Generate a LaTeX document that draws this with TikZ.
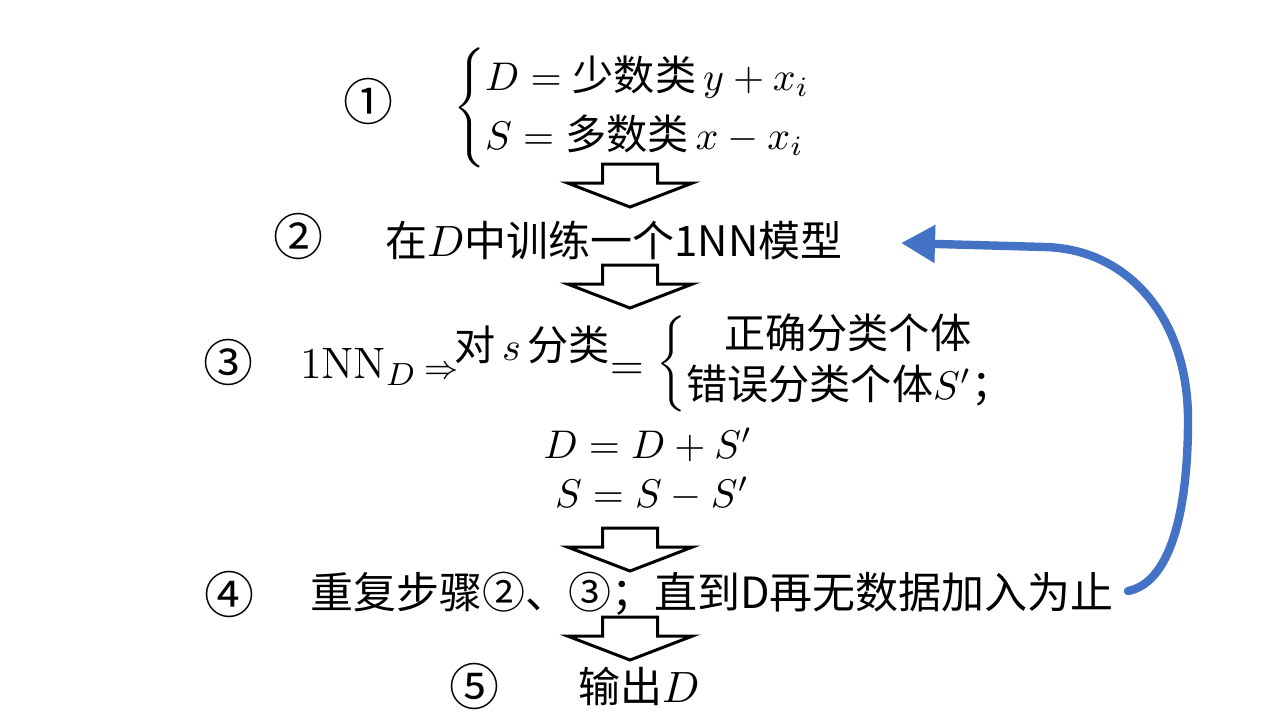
\documentclass[tikz,border=0pt]{standalone}
\usepackage{amsmath}
\usepackage{fontspec}
\newfontfamily\cjk{Noto Sans CJK SC}
\usetikzlibrary{arrows.meta}
\definecolor{loopblue}{HTML}{4472C4}
\newcommand\zh[1]{\text{\cjk #1}}
\tikzset{
  txt/.style={inner sep=0pt, outer sep=0pt},
  circnum/.style={txt, font=\cjk\fontsize{12.5}{14}\selectfont},
  hollowline/.style={draw=black, line width=0.75pt, line join=miter, fill=white},
  hollowdown/.pic={\draw[hollowline] (-27.5,0) -- (27.5,0) -- (27.5,19) -- (62.5,19) -- (0,43) -- (-62.5,19) -- (-27.5,19) -- cycle;},
  looparrow/.style={draw=loopblue, line width=2.1pt, line cap=round, -{Triangle[length=8.5pt,width=9pt]}}
}
\begin{document}
\begin{tikzpicture}[x=0.25pt,y=-0.25pt]
\useasboundingbox[fill=white] (0,0) rectangle (1280,720);

% step 1
\node[circnum] (n1) at (368,101) {①};
\node[txt, anchor=west, font=\fontsize{10.3}{13}\selectfont] (s1) at (453,108)
  {$\left\{\renewcommand\arraystretch{1.14}\begin{array}{@{}l@{}}
   D = \zh{少数类}\, y + x_i\\
   S = \zh{多数类}\, x - x_i
  \end{array}\right.$};

\pic at (630,164) {hollowdown};

% step 2
\node[circnum] (n2) at (298,236) {②};
\node[txt, anchor=west, font=\cjk\fontsize{10.5}{12}\selectfont] (s2) at (385,240)
  {在$D$中训练一个1NN模型};

\pic at (630,265) {hollowdown};

% step 3
\node[circnum] (n3) at (228,362) {③};
\node[txt, anchor=west, font=\fontsize{11}{13}\selectfont] (s3a) at (300,367)
  {$\mathrm{1NN}_D\,{\scriptstyle\Rightarrow}$};
\node[txt, anchor=west, font=\cjk\fontsize{10.3}{12}\selectfont] (s3b) at (454,345)
  {对\,$s$\,分类};
\node[txt, font=\fontsize{11}{13}\selectfont] (s3eq) at (627,371) {$=$};
\node[txt, anchor=west, font=\fontsize{10.3}{12}\selectfont] (s3c) at (656,364)
  {\delimiterfactor=850\relax$\left\{\renewcommand\arraystretch{1.05}\begin{array}{@{}l@{}}
   \hspace{9.5pt}\zh{正确分类个体}\\
   \zh{错误分类个体}S'\zh{；}
  \end{array}\right.$};
\node[txt, font=\fontsize{10}{12}\selectfont] (s3d) at (648,445) {$D = D + S'$};
\node[txt, font=\fontsize{10}{12}\selectfont] (s3e) at (652,494) {$S = S - S'$};

\pic at (630,528) {hollowdown};

% step 4
\node[circnum] (n4) at (229,594) {④};
\node[txt, anchor=west, font=\cjk\fontsize{10.75}{12}\selectfont] (s4) at (310,594)
  {重复步骤②、③；直到D再无数据加入为止};

\pic at (630,617) {hollowdown};

% step 5
\node[circnum] (n5) at (474,686) {⑤};
\node[txt, anchor=west, font=\cjk\fontsize{10.5}{12}\selectfont] (s5) at (578,686)
  {输出$D$};

% loop arrow
\coordinate (loopstart) at (1128,591);
\coordinate (loopend) at (901,243);
\draw[looparrow] (loopstart) .. controls (1174,582) and (1188,500) .. (1188,420)
  .. controls (1188,318) and (1128,249) .. (1045,247) -- (loopend);
\end{tikzpicture}
\end{document}
